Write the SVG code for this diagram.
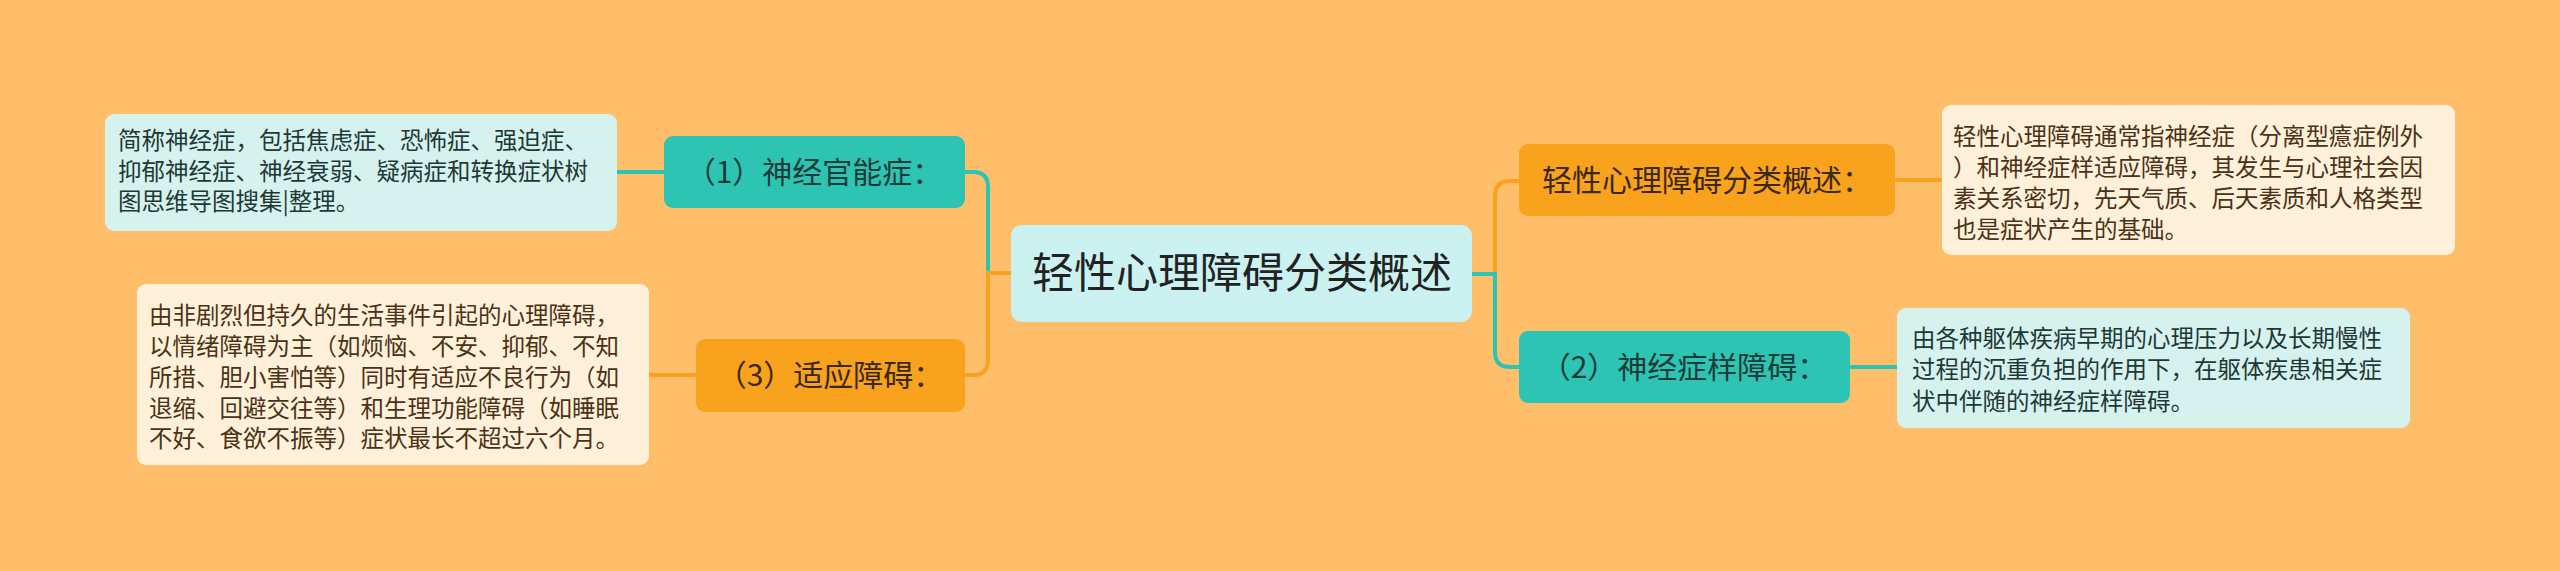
<svg xmlns="http://www.w3.org/2000/svg" width="2560" height="571" viewBox="0 0 2560 571">
<style>
.t{font-family:"Noto Sans CJK SC","Noto Sans",sans-serif;}
.leaf{font-size:23.5px;}
.lc{fill:#1e3835;}
.lo{fill:#4a3216;}
.n{font-size:30px;text-anchor:middle;}
.ct{fill:#1d3b38;}
.co{fill:#3a2810;}
.lnT{fill:none;stroke:#2EC4B4;stroke-width:4;}
.lnO{fill:none;stroke:#F9A21E;stroke-width:4;}
</style>
<rect x="0" y="0" width="2560" height="571" fill="#FEBE6A"/>
<g id="connectors">
<path class="lnT" d="M1011,273 H988 V187 Q988,172 973,172 H965"/>
<path class="lnO" d="M1011,273 H988 V360 Q988,375 973,375 H965"/>
<path class="lnO" d="M1472,274 H1495 V196 Q1495,181 1510,181 H1519"/>
<path class="lnT" d="M1472,274 H1495 V352 Q1495,367 1510,367 H1519"/>
<path class="lnT" d="M617,172 H664"/>
<path class="lnO" d="M649,375 H696"/>
<path class="lnO" d="M1895,180 H1942"/>
<path class="lnT" d="M1850,367 H1897"/>
</g>
<g id="center">
<rect x="1011" y="225" width="461" height="97" rx="11" fill="#CBF2F0"/>
<text class="t" x="1242" y="288" font-size="42" text-anchor="middle" fill="#222">轻性心理障碍分类概述</text>
</g>
<g id="node1">
<rect x="664" y="136" width="301" height="72" rx="9" fill="#2EC4B4"/>
<text class="t n ct" x="814" y="183">（1）神经官能症：</text>
</g>
<g id="node3">
<rect x="696" y="339" width="269" height="73" rx="9" fill="#F9A21E"/>
<text class="t n co" x="830" y="386">（3）适应障碍：</text>
</g>
<g id="nodeTop">
<rect x="1519" y="144" width="376" height="72" rx="9" fill="#F9A21E"/>
<text class="t n co" x="1707" y="191">轻性心理障碍分类概述：</text>
</g>
<g id="node2">
<rect x="1519" y="331" width="331" height="72" rx="9" fill="#2EC4B4"/>
<text class="t n ct" x="1684" y="378">（2）神经症样障碍：</text>
</g>
<g id="leaf1">
<rect x="105" y="114" width="512" height="117" rx="9" fill="#D6F2EF"/>
<text class="t leaf lc" x="118" y="149">简称神经症，包括焦虑症、恐怖症、强迫症、</text>
<text class="t leaf lc" x="118" y="179.5">抑郁神经症、神经衰弱、疑病症和转换症状树</text>
<text class="t leaf lc" x="118" y="210">图思维导图搜集|整理。</text>
</g>
<g id="leaf3">
<rect x="137" y="284" width="512" height="181" rx="9" fill="#FEF0D9"/>
<text class="t leaf lo" x="149" y="323.5">由非剧烈但持久的生活事件引起的心理障碍，</text>
<text class="t leaf lo" x="149" y="354.5">以情绪障碍为主（如烦恼、不安、抑郁、不知</text>
<text class="t leaf lo" x="149" y="385.5">所措、胆小害怕等）同时有适应不良行为（如</text>
<text class="t leaf lo" x="149" y="416.5">退缩、回避交往等）和生理功能障碍（如睡眠</text>
<text class="t leaf lo" x="149" y="447">不好、食欲不振等）症状最长不超过六个月。</text>
</g>
<g id="leafTop">
<rect x="1942" y="105" width="513" height="150" rx="9" fill="#FEF0D9"/>
<text class="t leaf lo" x="1953" y="144.5">轻性心理障碍通常指神经症（分离型癔症例外</text>
<text class="t leaf lo" x="1953" y="175.5">）和神经症样适应障碍，其发生与心理社会因</text>
<text class="t leaf lo" x="1953" y="207">素关系密切，先天气质、后天素质和人格类型</text>
<text class="t leaf lo" x="1953" y="238">也是症状产生的基础。</text>
</g>
<g id="leaf2">
<rect x="1897" y="308" width="513" height="120" rx="9" fill="#D6F2EF"/>
<text class="t leaf lc" x="1912" y="346.5">由各种躯体疾病早期的心理压力以及长期慢性</text>
<text class="t leaf lc" x="1912" y="378">过程的沉重负担的作用下，在躯体疾患相关症</text>
<text class="t leaf lc" x="1912" y="409.5">状中伴随的神经症样障碍。</text>
</g>
</svg>
